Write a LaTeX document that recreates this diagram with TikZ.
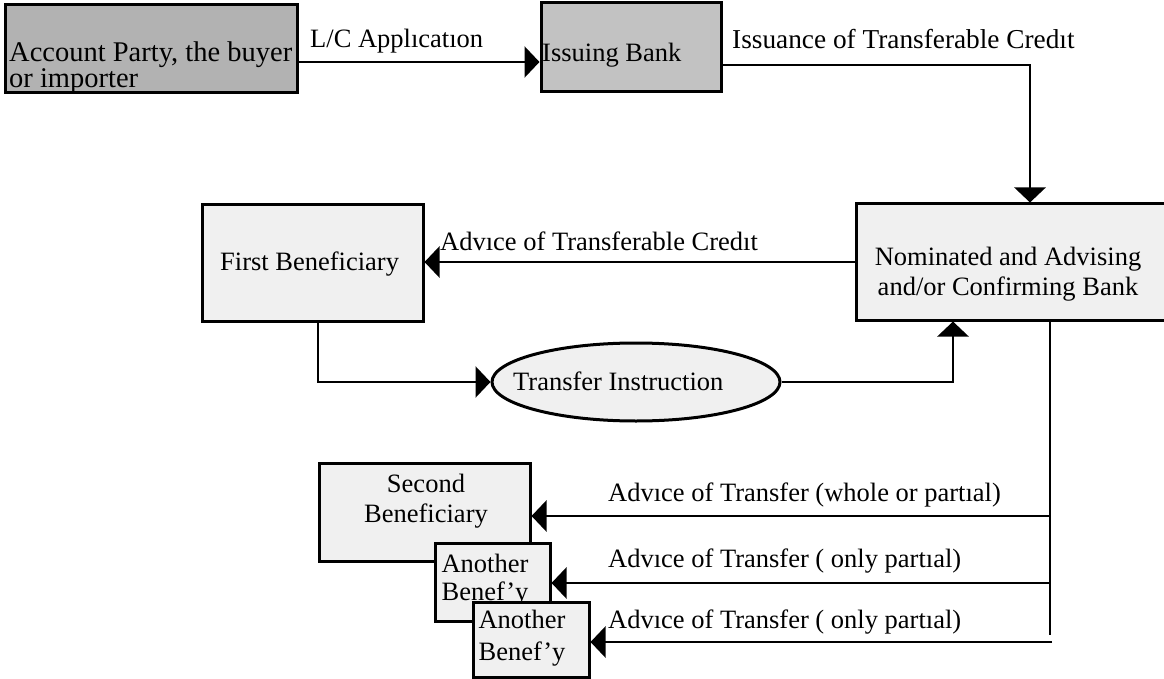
\documentclass[tikz,border=0pt]{standalone}
\usepackage{fontspec}
\setmainfont{Liberation Serif}
\usetikzlibrary{arrows.meta,shapes.geometric}
\begin{document}
\begin{tikzpicture}[x=1pt,y=-1pt,
  txt/.style={font=\fontsize{26.5}{30}\selectfont, inner sep=0pt},
  box/.style={draw, line width=3pt, inner sep=0pt},
  dense/.style={fill=black!30},
  light/.style={fill=black!6},
  conn/.style={line width=2.7pt},
  arr/.style={conn, -{Triangle[length=15pt,width=31pt]}},
]
% page frame
\fill[white] (0,0) rectangle (1164,679);
\useasboundingbox (0,0) rectangle (1164,679);

% ---- boxes (multi-line texts are placed by the baseline of their last line) ----
\node[box, dense, minimum width=292pt, minimum height=88pt] (acct) at (151,49) {};
\node[txt, font=\fontsize{28.5}{22}\selectfont, anchor=base west, align=left] (acctT) at (9,88) {Account Party, the buyer\\or importer};

\node[box, fill=black!24, minimum width=180pt, minimum height=89pt] (iss) at (631,47.5) {};
\node[txt, anchor=base west] (issT) at (542,62) {Issuing Bank};

\node[box, light, minimum width=310pt, minimum height=116pt] (nom) at (1011,262) {};
\node[txt, anchor=base, align=center] (nomT) at (1008,295) {Nominated and Advising\\and/or Confirming Bank};

\node[box, light, minimum width=221pt, minimum height=116pt] (first) at (312.5,263) {};
\node[txt, anchor=base west] (firstT) at (220,270) {First Beneficiary};

\node[draw, ellipse, line width=3pt, light, inner sep=0pt, minimum width=288pt, minimum height=78pt] (ti) at (636,382) {};
\node[txt, anchor=base west] (tiT) at (513,390) {Transfer Instruction};

\node[box, light, minimum width=211pt, minimum height=98pt] (sec) at (424.5,512) {};
\node[txt, anchor=base, align=center] (secT) at (426,522) {Second\\Beneficiary};

\node[box, light, minimum width=115pt, minimum height=78pt] (an1) at (492.5,582) {};
\node[txt, font=\fontsize{26.5}{28}\selectfont, anchor=base, align=center] (an1T) at (485,600) {Another\\Benef’y};

\node[box, light, minimum width=116pt, minimum height=75pt] (an2) at (531,639.5) {};
\node[txt, font=\fontsize{26.5}{32}\selectfont, anchor=base, align=center] (an2T) at (522,660) {Another\\Benef’y};

% ---- helper points ----
\coordinate (yAI) at (0,62);
\coordinate (yIN) at (0,65);
\coordinate (trunk) at (1050,635);
\coordinate (b1) at (1050,516);
\coordinate (b2) at (1050,583);
\coordinate (b3) at (1052,642);

% ---- connectors ----
\draw[arr] (acct.east |- yAI) -- (iss.west |- yAI);
\draw[arr] (iss.east |- yIN) -| ([xshift=19pt]nom.north);
\draw[arr] (nom.west) -- (first.east |- nom.west);
\draw[arr] ([xshift=5.5pt]first.south) |- (ti.west);
\draw[arr] (ti.east) -| ([xshift=-58pt]nom.south);
\draw[conn] ([xshift=39pt]nom.south) -- (trunk);
\draw[arr] (b1) -- (sec.east |- b1);
\draw[arr] (b2) -- (an1.east |- b2);
\draw[arr] (b3) -- (an2.east |- b3);

% ---- connector labels ----
\node[txt, anchor=base west] (lLC) at (310,48) {L/C Applıcatıon};
\node[txt, anchor=base west, font=\fontsize{27.3}{30}\selectfont] (lIss) at (732,49) {Issuance of Transferable Credıt};
\node[txt, anchor=base west] (lAdv) at (440,250) {Advıce of Transferable Credıt};
\node[txt, anchor=base west] (lT1) at (608,501) {Advıce of Transfer (whole or partıal)};
\node[txt, anchor=base west] (lT2) at (608,567) {Advıce of Transfer ( only partıal)};
\node[txt, anchor=base west] (lT3) at (608,628) {Advıce of Transfer ( only partıal)};
\end{tikzpicture}
\end{document}
